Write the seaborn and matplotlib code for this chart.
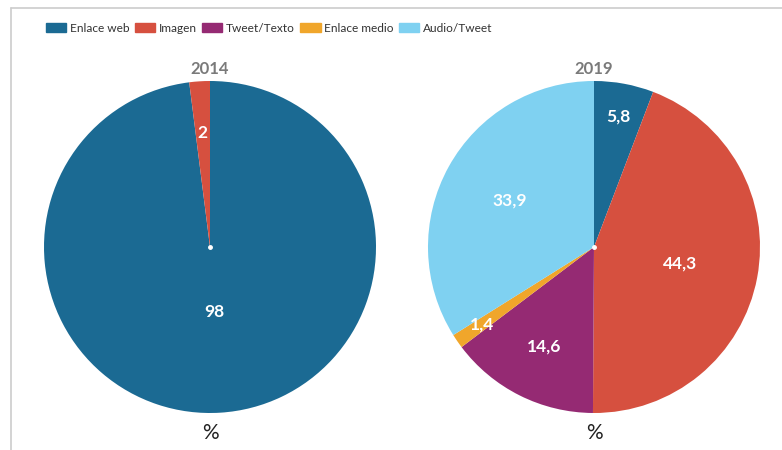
import matplotlib
matplotlib.use("Agg")
import matplotlib.pyplot as plt
import seaborn as sns
import numpy as np
from matplotlib.patches import Patch
from matplotlib.lines import Line2D

sns.set_theme(style="white")
plt.rcParams['font.family'] = ['Lato', 'DejaVu Sans']

categories = ["Enlace web", "Imagen", "Tweet/Texto", "Enlace medio", "Audio/Tweet"]
colors = ["#1b6a93", "#d6503f", "#952a73", "#f0a62b", "#7fd1f1"]
years = ["2014", "2019"]
values_2014 = [98, 2, 0, 0, 0]
values_2019 = [5.8, 44.3, 14.6, 1.4, 33.9]
label_frac_2014 = [0.39, 0.69, 0, 0, 0]
label_frac_2019 = [0.80, 0.53, 0.67, 0.82, 0.58]

W, H = 782, 450
fig = plt.figure(figsize=(W / 100, H / 100), dpi=100)
fig.patch.set_facecolor("white")

# frame lines
fig.add_artist(Line2D([11 / W, 1], [1 - 8 / H, 1 - 8 / H], color="#cccccc", lw=1.2, transform=fig.transFigure))
fig.add_artist(Line2D([11 / W, 11 / W], [0, 1 - 8 / H], color="#cccccc", lw=1.2, transform=fig.transFigure))

def draw_pie(cx, cy, r, vals, fracs, year):
    ax = fig.add_axes([(cx - r) / W, (H - cy - r) / H, 2 * r / W, 2 * r / H])
    ax.set_axis_off()
    v = [x for x in vals if x > 0]
    c = [colors[i] for i, x in enumerate(vals) if x > 0]
    f = [fracs[i] for i, x in enumerate(vals) if x > 0]
    wedges, _ = ax.pie(v, colors=c, startangle=90, counterclock=False, radius=1,
                       wedgeprops=dict(linewidth=0))
    for w, val, fr in zip(wedges, v, f):
        ang = np.deg2rad((w.theta1 + w.theta2) / 2)
        txt = ("%g" % val).replace(".", ",")
        ax.text(fr * np.cos(ang), fr * np.sin(ang), txt, ha="center", va="center",
                color="white", fontsize=12.5, fontweight="bold")
    ax.plot([0], [0], marker="o", color="white", markersize=2.5)
    ax.set_xlim(-1, 1)
    ax.set_ylim(-1, 1)
    fig.text(cx / W, 1 - 69 / H, year, ha="center", va="center", color="#7a7a7a",
             fontsize=12, fontweight="bold")
    fig.text(cx / W, 1 - 433 / H, "%", ha="center", va="center", color="#222222", fontsize=15)

draw_pie(210, 247, 166, values_2014, label_frac_2014, years[0])
draw_pie(594, 247, 166, values_2019, label_frac_2019, years[1])

handles = [Patch(facecolor=col, edgecolor=col, label=cat) for cat, col in zip(categories, colors)]
fig.legend(handles=handles, loc="center left", bbox_to_anchor=(46 / W, 1 - 28 / H), ncol=5,
           frameon=False, fontsize=8.6, handlelength=1.7, handleheight=0.85, handletextpad=0.3,
           columnspacing=0.45, labelcolor="#333333", borderaxespad=0, borderpad=0)

fig.savefig("out.png", dpi=100, facecolor="white")
